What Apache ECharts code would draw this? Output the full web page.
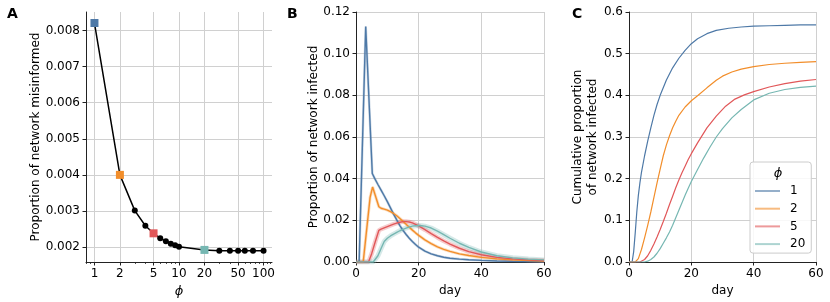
<!DOCTYPE html>
<html><head><meta charset="utf-8">
<script src="https://cdn.jsdelivr.net/npm/echarts@6/dist/echarts.min.js"></script>
<style>html,body{margin:0;padding:0;background:#fff}#c{width:830px;height:302px}</style>
</head><body><div id="c"></div>
<script>
// ---- Panel A ----
const phi = [1,2,3,4,5,6,7,8,9,10,20,30,40,50,60,75,100];
const misinformed = [0.00821,0.0040,0.00301,0.00259,0.00238,0.00224,0.00216,0.00209,0.00205,0.00201,0.00192,0.0019,0.0019,0.0019,0.0019,0.0019,0.0019];
const phiTicks = [1,2,5,10,20,50,100];
const phiMinorTicks = [0.8,0.9,3,4,6,7,8,9,30,40,60,70,80,90,110,120];
const misTicks = [0.002,0.003,0.004,0.005,0.006,0.007,0.008];

// ---- groups ----
const groups = ['1','2','5','20'];
const colors = ['#4e79a7','#f28e2b','#e15759','#76b7b2'];
const legendColors = ['rgba(78,121,167,0.6)','rgba(242,142,43,0.6)','rgba(225,87,89,0.6)','rgba(118,183,178,0.6)'];

// ---- Panel B: proportion infected ----
const dayB1 = [0,1,3.1,5.2,6,7,8,9,10,11,12,13,14,15,16,17,18,19,20,22,24,26,28,30,33,36,40,45,50,55,60];
const infB1 = [0,0,0.113,0.0425,0.0400,0.0372,0.0345,0.0318,0.0290,0.0260,0.0230,0.0202,0.0175,0.0152,0.0132,0.0114,0.0098,0.0084,0.0071,0.0052,0.0039,0.0030,0.0023,0.0018,0.0014,0.0011,0.0008,0.0005,0.0003,0.0002,0.0001];
const dayB2 = [0,2.3,4.5,5.3,7.3,8,9,10,11,12,13,14,15,16,17,18,19,20,22,24,26,28,30,33,36,40,45,50,55,60];
const infB2 = [0,0,0.031,0.036,0.0265,0.0258,0.0254,0.0249,0.0242,0.0233,0.0222,0.0209,0.0195,0.0181,0.0167,0.0153,0.0140,0.0128,0.0106,0.0088,0.0073,0.0061,0.0051,0.0039,0.0031,0.0022,0.0015,0.0010,0.0007,0.0005];
const dayB5 = [0,4,5,6,7.3,8,9,10,11,12,13,14,15,16,17,18,19,20,22,24,26,28,30,33,36,40,45,50,55,60];
const infB5 = [0,0,0.004,0.009,0.0152,0.0158,0.0164,0.0170,0.0176,0.0182,0.0187,0.0191,0.0194,0.0194,0.0192,0.0188,0.0181,0.0173,0.0155,0.0136,0.0118,0.0101,0.0086,0.0066,0.0050,0.0035,0.0022,0.0015,0.0010,0.0007];
const dayB20 = [0,5.5,7,8,9,10,11,12,13,14,15,16,17,18,19,20,21,22,24,26,28,30,33,36,40,45,50,55,60];
const infB20 = [0,0,0.003,0.0065,0.0098,0.0114,0.0125,0.0134,0.0142,0.0150,0.0157,0.0163,0.0168,0.0172,0.0174,0.0175,0.0174,0.0172,0.0163,0.0148,0.0131,0.0114,0.0090,0.0070,0.0048,0.0030,0.0020,0.0014,0.0010];

// ---- Panel C: cumulative proportion infected ----
const dayC1 = [0,1,1.5,2,2.5,3,3.5,4,5,6,7,8,9,10,12,14,16,18,20,22,25,28,32,36,40,45,50,55,60];
const cumC1 = [0,0,0.025,0.07,0.12,0.16,0.19,0.215,0.255,0.29,0.322,0.352,0.378,0.40,0.437,0.466,0.489,0.508,0.524,0.536,0.548,0.556,0.561,0.564,0.566,0.567,0.568,0.569,0.569];
const dayC2 = [0,2,2.5,3,4,5,6,7,8,9,10,11,12,13,14,15,16,18,20,22,25,28,30,33,36,40,45,50,55,60];
const cumC2 = [0,0,0.002,0.008,0.03,0.058,0.088,0.12,0.155,0.19,0.223,0.255,0.281,0.303,0.322,0.338,0.352,0.372,0.387,0.399,0.418,0.436,0.446,0.456,0.463,0.469,0.474,0.477,0.479,0.481];
const dayC5 = [0,3.5,4,5,6,7,8,9,10,11,12,13,14,15,16,17,18,19,20,22,25,28,31,34,37,40,45,50,55,60];
const cumC5 = [0,0,0.001,0.006,0.015,0.028,0.043,0.06,0.078,0.097,0.117,0.138,0.158,0.178,0.197,0.214,0.23,0.246,0.26,0.286,0.322,0.35,0.374,0.391,0.401,0.409,0.42,0.428,0.434,0.438];
const dayC20 = [0,5,6,7,8,9,10,11,12,13,14,15,16,17,18,19,20,22,24,26,28,30,33,36,40,45,50,55,60];
const cumC20 = [0,0,0.002,0.006,0.012,0.021,0.032,0.045,0.058,0.072,0.088,0.106,0.124,0.142,0.16,0.177,0.193,0.222,0.25,0.276,0.30,0.32,0.346,0.366,0.389,0.405,0.414,0.419,0.422];

const B = [[dayB1,infB1],[dayB2,infB2],[dayB5,infB5],[dayB20,infB20]];
const C = [[dayC1,cumC1],[dayC2,cumC2],[dayC5,cumC5],[dayC20,cumC20]];
const bandW = [2.5,3,4.5,5];

const FONT = 'DejaVu Sans';
const AX = '#222';
const GRIDC = '#d0d0d0';
const pairs = (d,v) => d.map((x,i)=>[x,v[i]]);

function baseAxis(extra){
  return Object.assign({
    axisLine:{show:true,lineStyle:{color:AX,width:1}},
    axisTick:{show:true,length:3.5,lineStyle:{color:AX,width:1}},
    axisLabel:{color:'#000',fontSize:12,fontFamily:FONT,margin:6},
    splitLine:{show:true,lineStyle:{color:GRIDC,width:1}},
    nameTextStyle:{color:'#000',fontSize:12,fontFamily:FONT},
    nameLocation:'middle'
  }, extra);
}

const aData = phi.map((p,i)=>{
  const k = groups.indexOf(String(p));
  if(k>=0) return {value:[p,misinformed[i]],symbol:'rect',symbolSize:8,itemStyle:{color:colors[k]}};
  return {value:[p,misinformed[i]]};
});

const series = [{
  type:'line',xAxisIndex:0,yAxisIndex:0,data:aData,symbol:'circle',symbolSize:6,
  showAllSymbol:true,itemStyle:{color:'#000'},lineStyle:{color:'#000',width:1.5},animation:false,z:3
}];
groups.forEach((g,k)=>{
  series.push({type:'line',name:g+' band',xAxisIndex:2,yAxisIndex:1,data:pairs(B[k][0],B[k][1]),symbol:'none',
    lineStyle:{color:colors[k],width:bandW[k],opacity:0.3},silent:true,animation:false,z:1});
});
groups.forEach((g,k)=>{
  series.push({type:'line',name:g,xAxisIndex:2,yAxisIndex:1,data:pairs(B[k][0],B[k][1]),symbol:'none',
    itemStyle:{color:colors[k]},lineStyle:{color:colors[k],width:1.4},animation:false,z:2});
});
groups.forEach((g,k)=>{
  series.push({type:'line',name:g,xAxisIndex:3,yAxisIndex:2,data:pairs(C[k][0],C[k][1]),symbol:'none',
    smooth:false,
    itemStyle:{color:colors[k]},lineStyle:{color:colors[k],width:1.2},animation:false,z:2});
});

const option = {
  animation:false,
  backgroundColor:'#fff',
  textStyle:{fontFamily:FONT},
  grid:[
    {left:86,top:12,width:186,height:250,outerBoundsMode:'none'},
    {left:356,top:12,width:188,height:250,outerBoundsMode:'none'},
    {left:629,top:12,width:187,height:250,outerBoundsMode:'none'}
  ],
  xAxis:[
    baseAxis({type:'log',logBase:10,gridIndex:0,min:0.7943,max:125.89,position:'bottom',
      axisTick:{show:true,length:3.5,lineStyle:{color:AX,width:1},customValues:phiTicks},
      axisLabel:{color:'#000',fontSize:12,fontFamily:FONT,margin:6,customValues:phiTicks,formatter:v=>String(Math.round(v))},
      name:'ϕ',nameGap:14,nameTextStyle:{color:'#000',fontSize:13,fontFamily:FONT,fontStyle:'italic'}}),
    {type:'log',logBase:10,gridIndex:0,min:0.7943,max:125.89,position:'bottom',
      axisLine:{show:false},axisLabel:{show:false},splitLine:{show:false},
      axisTick:{show:true,length:2,lineStyle:{color:AX,width:0.8},customValues:phiMinorTicks}},
    baseAxis({type:'value',gridIndex:1,min:0,max:60,interval:20,name:'day',nameGap:17}),
    baseAxis({type:'value',gridIndex:2,min:0,max:60,interval:20,name:'day',nameGap:17})
  ],
  yAxis:[
    baseAxis({type:'value',gridIndex:0,min:0.001585,max:0.008515,
      axisTick:{show:true,length:3.5,lineStyle:{color:AX,width:1},customValues:misTicks},
      axisLabel:{color:'#000',fontSize:12,fontFamily:FONT,margin:6,customValues:misTicks,formatter:v=>v.toFixed(3)},
      name:'Proportion of network misinformed',nameGap:43}),
    baseAxis({type:'value',gridIndex:1,min:0,max:0.12,interval:0.02,
      axisLabel:{color:'#000',fontSize:12,fontFamily:FONT,margin:6,formatter:v=>v.toFixed(2)},
      name:'Proportion of network infected',nameGap:36}),
    baseAxis({type:'value',gridIndex:2,min:0,max:0.6,interval:0.1,
      axisLabel:{color:'#000',fontSize:12,fontFamily:FONT,margin:6,formatter:v=>v.toFixed(1)},
      name:'Cumulative proportion\nof network infected',nameGap:27,
      nameTextStyle:{color:'#000',fontSize:12,fontFamily:FONT,lineHeight:15}})
  ],
  legend:{
    data:groups.map((g,k)=>({name:g,itemStyle:{color:legendColors[k]}})),
    orient:'vertical',left:750,top:162,
    icon:'rect',itemWidth:25,itemHeight:2,itemGap:5.7,
    padding:[23,6,3,5],
    backgroundColor:'rgba(255,255,255,0.85)',borderColor:'#cccccc',borderWidth:1,borderRadius:3,
    textStyle:{color:'#000',fontSize:12,fontFamily:FONT,padding:[0,0,0,5]}
  },
  graphic:[
    {type:'text',left:7,top:7,style:{text:'A',font:'bold 14px "DejaVu Sans"',fill:'#000'}},
    {type:'text',left:287,top:7,style:{text:'B',font:'bold 14px "DejaVu Sans"',fill:'#000'}},
    {type:'text',left:572,top:7,style:{text:'C',font:'bold 14px "DejaVu Sans"',fill:'#000'}},
    {type:'text',x:778,y:174,z:100,style:{text:'ϕ',font:'italic 13px "DejaVu Sans"',fill:'#000',align:'center',verticalAlign:'middle'}}
  ],
  series
};
const chart = echarts.init(document.getElementById('c'),null,{renderer:'canvas'});
chart.setOption(option);
</script></body></html>
